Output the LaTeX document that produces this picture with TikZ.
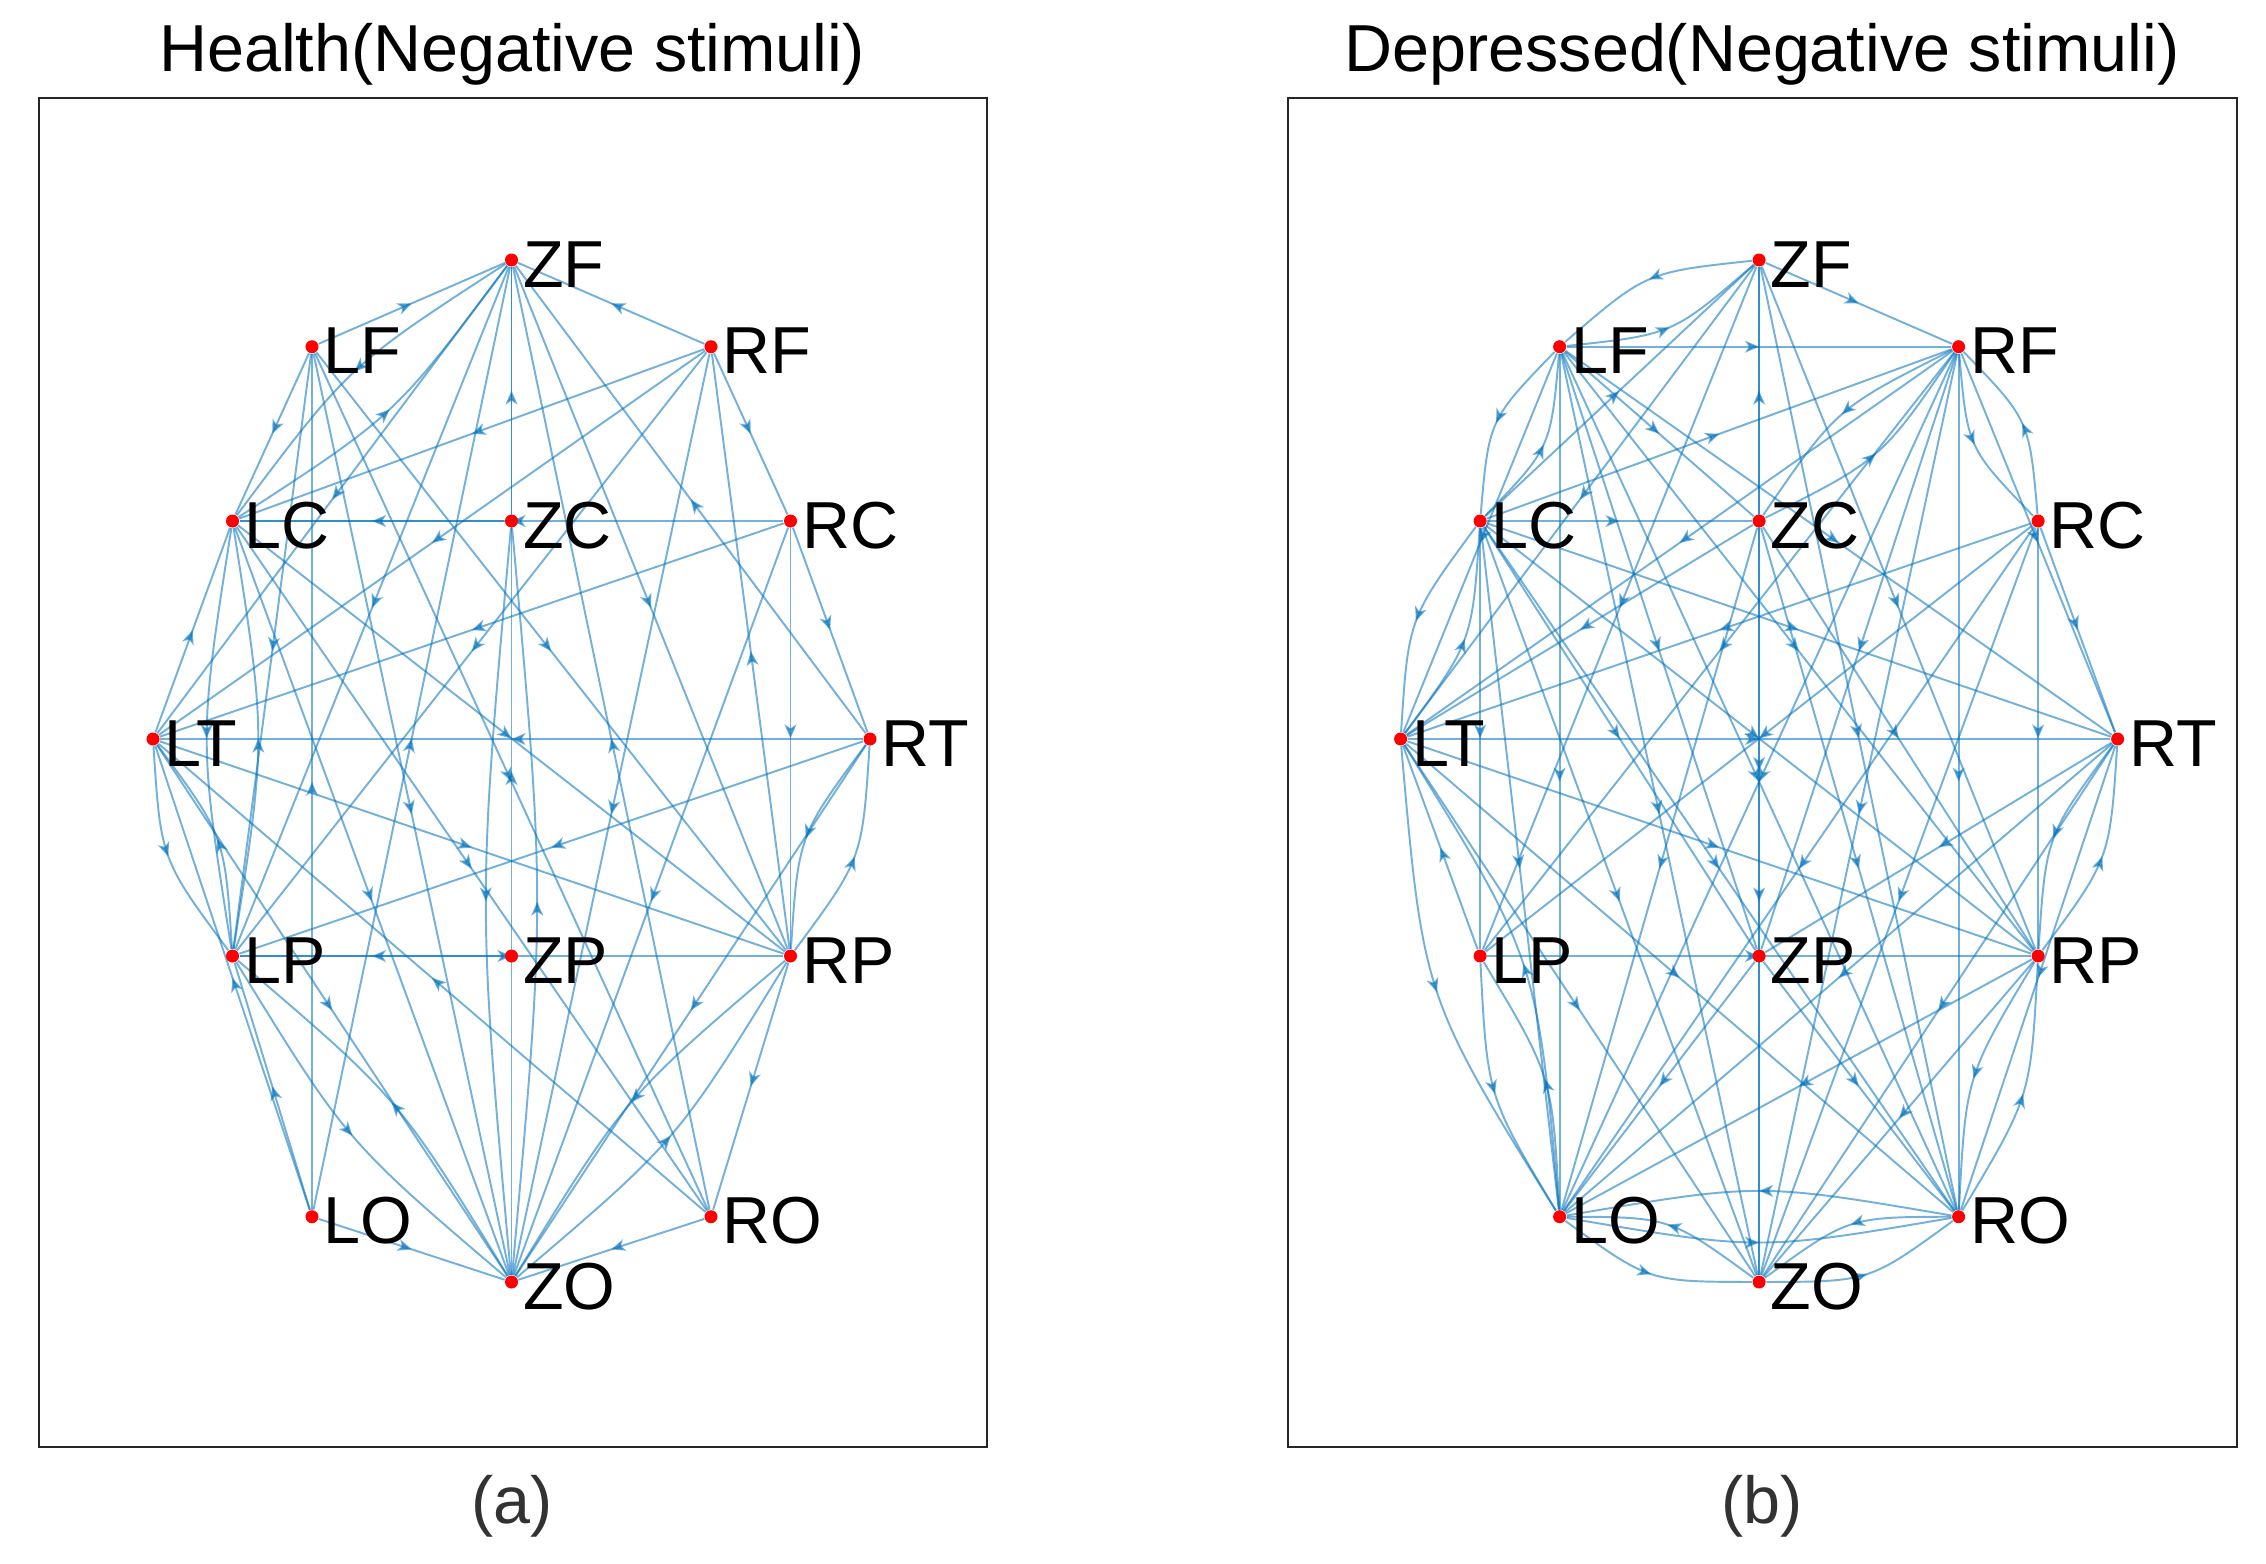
\documentclass[tikz,border=0pt]{standalone}
\usepackage{fontspec}
\setmainfont{Liberation Sans}
\usetikzlibrary{decorations.markings,arrows.meta,calc}
\definecolor{eb}{RGB}{0,114,189}
\definecolor{fr}{RGB}{38,38,38}
\definecolor{capc}{RGB}{50,50,50}
\tikzset{
 hub/.style={circle,inner sep=0pt,minimum size=0.13cm},
 dot/.style={circle,fill=red,inner sep=0pt,minimum size=0.13cm},
 lab/.style={anchor=base west,inner sep=0pt,font=\fontsize{18.9}{22}\selectfont},
 ttl/.style={anchor=base,inner sep=0pt,font=\fontsize{18.9}{22}\selectfont},
 ed/.style={draw=eb,line width=0.55pt,opacity=0.55,postaction={decorate},
   decoration={markings,mark=at position 0.5 with {\arrow[eb]{Stealth[length=4pt,width=3.4pt,inset=1.1pt]}}}},
}
\newcommand\nodelist{ZF/511.5/260, LF/312/346.7, RF/711/346.7, LC/232.5/521, ZC/511.5/521, RC/790.5/521, LT/153/739, RT/870/739, LP/232.5/956, ZP/511.5/956, RP/790.5/956, LO/312/1216.7, RO/711/1216.7, ZO/511.5/1282}
\newcommand\mkhubs[2]{\foreach \n/\x/\y in \nodelist {\node[hub] (#1\n) at ({\x+#2},\y) {};}}
\newcommand\mkdots[2]{\foreach \n/\x/\y in \nodelist {\node[dot] at ({\x+#2},\y) {}; \node[lab] at ({\x+#2+11},{\y+27}) {\n};}}
% curved edge of a reciprocal pair, bulging to the right of its direction
\newcommand\CE[3][0.34cm]{\draw[ed] (#2) .. controls ($(#2)!0.5!(#3)!#1!-90:(#3)$) .. (#3);}
\begin{document}
\begin{tikzpicture}[x=0.01cm,y=-0.01cm]
\useasboundingbox (0,0) rectangle (2266,1563);
\fill[white] (0,0) rectangle (2266,1563);
\draw[fr,line width=0.4pt] (39,98) rectangle (987,1447);
\draw[fr,line width=0.4pt] (1288,98) rectangle (2237,1447);
\node[ttl] (ta) at (512,71) {Health(Negative stimuli)};
\node[ttl] (tb) at (1762,71) {Depressed(Negative stimuli)};
\node[ttl,text=capc] (ca) at (512,1523) {(a)};
\node[ttl,text=capc] (cb) at (1762,1523) {(b)};
\mkhubs{a}{0}
\mkhubs{b}{1247.6}
% ---------- panel a ----------
\foreach \s/\t in {LF/ZF, RF/ZF, ZC/ZF, RT/ZF, ZF/LT, LO/ZF, RO/ZF, ZF/LP, ZF/RP, ZO/ZF,
  LF/LC, LF/LP, LO/LF, LF/ZO, LF/RP, LF/RO, RF/LC, RF/LT, RF/RC, RF/LP, RF/ZO, RP/RF,
  ZC/LC, RC/LC, LT/LC, LC/RP, LC/RO, LC/ZO, RC/RP, RC/LT, RC/ZO, RC/RT, RT/LT, LO/LT, LT/RP, LT/ZO,
  ZP/LP, LP/RP, RT/ZO, RT/LP, RP/RO, LO/ZO, RO/ZO, LO/LP, RO/LT}
  {\draw[ed] (a\s) -- (a\t);}
\foreach \s/\t in {LC/ZF, ZF/LC, LC/LP, LP/LC, LT/LP, LP/LT, LP/ZO, ZO/LP, RT/RP, RP/RT, RP/ZO, ZO/RP, ZC/ZO, ZO/ZC}
  {\CE{a\s}{a\t}}
% ---------- panel b ----------
\foreach \s/\t in {LF/RF, LC/ZF, ZC/ZF, LF/ZC, LC/RF, ZF/LT, ZF/RF, RF/LT, ZF/LP, ZF/ZO, ZF/RP, ZF/RO,
  LF/LT, LF/LO, LF/ZP, LF/ZO, LF/RO, LF/RP, LF/RT,
  RF/LO, RF/ZP, RF/ZO, RF/RO, RF/RT, RF/LP,
  LC/ZC, LC/RT, LC/ZP, LC/RP, LC/ZO, LC/LO, LC/RO, LC/LP,
  ZC/LT, ZC/LO, ZC/RO, ZC/RP, ZC/ZO, RC/LT, RC/LO, RC/RP, RC/ZO, RC/LP, RC/RT,
  LT/RT, LT/RP, LT/RO, LT/ZO, RT/LO, RT/ZO, RT/ZP, RT/RO, LP/LT,
  LP/RP, ZP/LO, ZP/RO, RP/LO, RP/ZO}
  {\draw[ed] (b\s) -- (b\t);}
\foreach \s/\t in {ZF/LF, LF/ZF, LF/LC, LC/LF, RF/ZC, ZC/RF, RF/RC, RC/RF, RT/RP, RP/RT, RO/LO, LO/RO, RO/ZO, ZO/RO, ZO/LO, LO/ZO, RP/RO, RO/RP, LC/LT, LT/LC, LP/LO, LO/LP}
  {\CE{b\s}{b\t}}
\CE[0.6cm]{bLT}{bLO}
\CE[0.6cm]{bLO}{bLT}
\mkdots{a}{0}
\mkdots{b}{1247.6}
\end{tikzpicture}
\end{document}
